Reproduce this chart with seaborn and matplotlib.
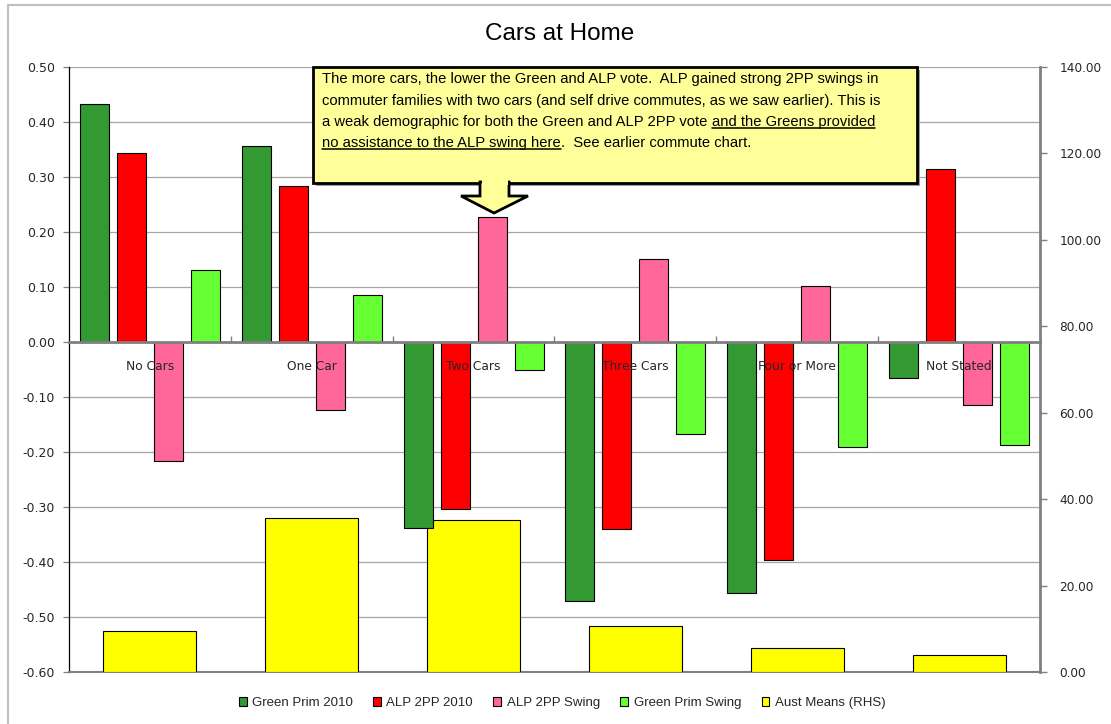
import matplotlib
matplotlib.use("Agg")
import matplotlib.pyplot as plt
import seaborn as sns
import pandas as pd
import numpy as np
from matplotlib.patches import Rectangle, Polygon, Patch
from matplotlib.lines import Line2D
from matplotlib.ticker import FormatStrFormatter

# ---------------- data ----------------
categories = ["No Cars", "One Car", "Two Cars", "Three Cars", "Four or More", "Not Stated"]
green_prim_2010 = [0.433, 0.356, -0.338, -0.471, -0.456, -0.065]
alp_2pp_2010 = [0.344, 0.284, -0.304, -0.340, -0.396, 0.315]
alp_2pp_swing = [-0.216, -0.124, 0.227, 0.151, 0.102, -0.115]
green_prim_swing = [0.131, 0.085, -0.051, -0.167, -0.191, -0.187]
aust_means = [9.5, 35.6, 35.2, 10.6, 5.6, 3.9]

series_names = ["Green Prim 2010", "ALP 2PP 2010", "ALP 2PP Swing", "Green Prim Swing"]
aust_name = "Aust Means (RHS)"
left_ticks = [-0.6, -0.5, -0.4, -0.3, -0.2, -0.1, 0.0, 0.1, 0.2, 0.3, 0.4, 0.5]
right_ticks = [0, 20, 40, 60, 80, 100, 120, 140]
title = "Cars at Home"
note_lines = [
    "The more cars, the lower the Green and ALP vote.  ALP gained strong 2PP swings in",
    "commuter families with two cars (and self drive commutes, as we saw earlier). This is",
]
note_line3 = ("a weak demographic for both the Green and ALP 2PP vote", "and the Greens provided")
note_line4 = ("no assistance to the ALP swing here", ".  See earlier commute chart.")

colors = ["#339933", "#FF0000", "#FF6699", "#66FF33"]
aust_color = "#FFFF00"

# ---------------- style ----------------
sns.set_style("white")
plt.rcParams["font.family"] = ["DejaVu Sans"]
NARROW = ["Liberation Sans Narrow", "Liberation Sans", "DejaVu Sans"]

W, H = 1111, 724
def fx(px):
    return px / W
def fy(py):
    return 1 - py / H

fig = plt.figure(figsize=(W / 100, H / 100), dpi=100)
fig.patch.set_facecolor("white")

L, R, T, B = 69, 1040, 67, 672
ax_back = fig.add_axes([fx(L), fy(B), fx(R) - fx(L), fy(T) - fy(B)])
ax_right = ax_back.twinx()
ax_front = ax_back.twinx()
ax_back.set_zorder(0)
ax_right.set_zorder(1)
ax_front.set_zorder(2)
ax_right.patch.set_visible(False)
ax_front.patch.set_visible(False)

df = pd.DataFrame({
    "category": categories * 4,
    "series": np.repeat(series_names, len(categories)),
    "value": green_prim_2010 + alp_2pp_2010 + alp_2pp_swing + green_prim_swing,
})
df_aust = pd.DataFrame({"category": categories, "value": aust_means})

# secondary (RHS) bars, drawn behind
sns.barplot(data=df_aust, x="category", y="value", order=categories, color=aust_color,
            saturation=1, width=0.575, edgecolor="black", linewidth=0.8,
            errorbar=None, ax=ax_right)

# primary bars
sns.barplot(data=df, x="category", y="value", hue="series", order=categories,
            hue_order=series_names, palette=dict(zip(series_names, colors)),
            saturation=1, width=0.915, gap=0.217, edgecolor="black", linewidth=0.8,
            errorbar=None, legend=False, ax=ax_front)

for a in (ax_back, ax_right, ax_front):
    a.set_xlim(-0.5, len(categories) - 0.5)
    a.set_xlabel("")
    a.set_ylabel("")

ax_back.set_ylim(-0.6, 0.5)
ax_front.set_ylim(-0.6, 0.5)
ax_right.set_ylim(0, 140)

# back axes: grid + left ticks
ax_back.set_yticks(left_ticks)
ax_back.yaxis.set_major_formatter(FormatStrFormatter("%.2f"))
ax_back.yaxis.grid(True, color="#A6A6A6", linewidth=0.9)
ax_back.xaxis.grid(False)
ax_back.set_axisbelow(True)
ax_back.tick_params(axis="y", direction="out", length=4, color="#808080", width=0.9,
                    pad=6, labelsize=9, left=True)
ax_back.tick_params(axis="x", which="both", bottom=False, labelbottom=False)
for s in ["top", "right"]:
    ax_back.spines[s].set_visible(False)
ax_back.spines["left"].set_color("black")
ax_back.spines["left"].set_linewidth(0.9)
ax_back.spines["bottom"].set_color("#808080")
ax_back.spines["bottom"].set_linewidth(1.5)

# right axes
ax_right.set_yticks(right_ticks)
ax_right.yaxis.set_major_formatter(FormatStrFormatter("%.2f"))
ax_right.tick_params(axis="y", direction="out", length=5, color="#808080", width=1,
                     pad=9, labelsize=8.7, right=True)
for s in ["top", "left", "bottom"]:
    ax_right.spines[s].set_visible(False)
ax_right.spines["right"].set_color("#808080")
ax_right.spines["right"].set_linewidth(2)

# front axes: zero line + category labels (drawn above the bars)
ax_front.set_axisbelow(False)
ax_front.yaxis.set_visible(False)
ax_front.xaxis.set_visible(True)
for s in ["top", "left", "right"]:
    ax_front.spines[s].set_visible(False)
ax_front.spines["bottom"].set_position(("data", 0))
ax_front.spines["bottom"].set_color("#808080")
ax_front.spines["bottom"].set_linewidth(2)
ax_front.spines["bottom"].set_zorder(3)
ax_front.set_xticks(range(len(categories)))
ax_front.set_xticklabels(categories)
ax_front.set_xticks([i + 0.5 for i in range(len(categories) - 1)], minor=True)
ax_front.tick_params(axis="x", which="major", length=0, pad=13, labelsize=8.8,
                     bottom=True, labelbottom=True)
ax_front.tick_params(axis="x", which="minor", direction="in", length=4, color="#808080",
                     width=1, bottom=True)

# title
fig.text(fx(560), fy(34), title, ha="center", va="center", fontsize=17.5,
         family=["Liberation Sans", "DejaVu Sans"], color="black")

# legend
handles = [Patch(facecolor=c, edgecolor="black", linewidth=0.8) for c in colors + [aust_color]]
labels = series_names + [aust_name]
fig.legend(handles, labels, loc="center", bbox_to_anchor=(fx(562), fy(703)), ncol=5,
           frameon=False, handlelength=0.6, handleheight=0.6, handletextpad=0.4,
           columnspacing=1.55, prop={"family": NARROW, "size": 9.5})

# outer border
fig.add_artist(Line2D([fx(8), fx(8), 1.0], [0.0, fy(5), fy(5)], transform=fig.transFigure,
                      color="#BFBFBF", linewidth=1.5, zorder=5))

# callout box
bx0, by0, bx1, by1 = 313, 67, 917, 183
fig.add_artist(Rectangle((fx(bx0 + 3), fy(by1 + 3)), fx(bx1) - fx(bx0), fy(by0) - fy(by1),
                         transform=fig.transFigure, facecolor="#9A9A9A", edgecolor="none",
                         zorder=9))
fig.add_artist(Rectangle((fx(bx0), fy(by1)), fx(bx1) - fx(bx0), fy(by0) - fy(by1),
                         transform=fig.transFigure, facecolor="#FFFF99", edgecolor="black",
                         linewidth=2, zorder=10))
arrow_px = [(480, by1 - 1), (509, by1 - 1), (509, 196), (528, 196), (494, 213), (461, 196), (480, 196)]
fig.add_artist(Polygon([(fx(x), fy(y)) for x, y in arrow_px], closed=True,
                       transform=fig.transFigure, facecolor="#FFFF99", edgecolor="black",
                       linewidth=2, joinstyle="miter", zorder=10))
fig.add_artist(Rectangle((fx(481.5), fy(by1 + 2)), fx(26), fy(0) - fy(5),
                         transform=fig.transFigure, facecolor="#FFFF99", edgecolor="none",
                         zorder=10.5))

renderer = fig.canvas.get_renderer()
tx0 = 322
line_y = [79, 101, 122, 143]
font_kw = dict(family=NARROW, color="black", va="center", ha="left", zorder=11)

probe = fig.text(fx(tx0), fy(line_y[0]), note_lines[0], fontsize=10, **font_kw)
w = probe.get_window_extent(renderer).width
note_size = 10 * 558 / w
probe.remove()

def px_width(s):
    t = fig.text(0, 0, s, fontsize=note_size, **font_kw)
    ww = t.get_window_extent(renderer).width
    t.remove()
    return ww

space_w = px_width("x x") - px_width("xx")

for i, s in enumerate(note_lines):
    fig.text(fx(tx0), fy(line_y[i]), s, fontsize=note_size, **font_kw)

def two_part(y, a, b, underline_first):
    t1 = fig.text(fx(tx0), fy(y), a, fontsize=note_size, **font_kw)
    bb1 = t1.get_window_extent(renderer)
    gap = 0 if b.startswith(".") else space_w
    t2 = fig.text((bb1.x1 + gap) / W, fy(y), b, fontsize=note_size, **font_kw)
    bb2 = t2.get_window_extent(renderer)
    bb = bb1 if underline_first else bb2
    yline = (bb2.y0 + 1.5) / H
    fig.add_artist(Line2D([bb.x0 / W, bb.x1 / W], [yline, yline], transform=fig.transFigure,
                          color="black", linewidth=1.1, zorder=11))

two_part(line_y[2], note_line3[0], note_line3[1], underline_first=False)
two_part(line_y[3], note_line4[0], note_line4[1], underline_first=True)

fig.savefig("out.png", dpi=100, facecolor="white")
